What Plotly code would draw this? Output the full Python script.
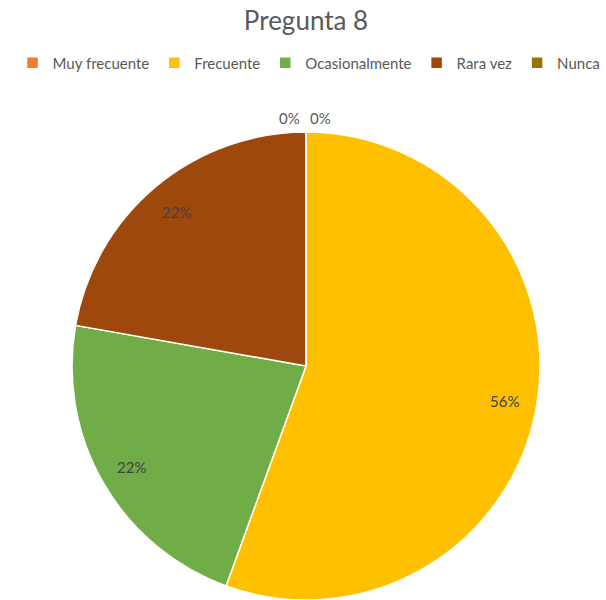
import math
import plotly.graph_objects as go

categories = ["Muy frecuente", "Frecuente", "Ocasionalmente", "Rara vez", "Nunca"]
values = [0, 5, 2, 2, 0]
colors = ["#ED7D31", "#FFC000", "#70AD47", "#9E480E", "#997300"]
title_text = "Pregunta 8"

W, H = 606, 600
dom_x = [0.01, 1.0]
dom_y = [0.0, 0.78]
cx_px = (dom_x[0] + dom_x[1]) / 2 * W
cy_paper = (dom_y[0] + dom_y[1]) / 2
R_px = min((dom_x[1] - dom_x[0]) * W, (dom_y[1] - dom_y[0]) * H) / 2

fig = go.Figure(go.Pie(
    labels=categories, values=values, sort=False, direction="clockwise",
    marker=dict(colors=colors, line=dict(color="white", width=1.5)),
    textinfo="none", hoverinfo="label+percent",
    domain=dict(x=dom_x, y=dom_y), showlegend=True,
))

total = sum(values)
annotations = []
cum = 0
for i, v in enumerate(values):
    pct = f"{round(100 * v / total)}%"
    if v > 0:
        theta = 2 * math.pi * (cum + v / 2) / total
        k = 0.86
        x = (cx_px + k * R_px * math.sin(theta)) / W
        y = cy_paper + k * R_px * math.cos(theta) / H
        annotations.append(dict(x=x, y=y, xref="paper", yref="paper", text=pct,
                                xanchor="center", yanchor="middle",
                                showarrow=False, font=dict(size=15, color="#404040")))
    else:
        theta = 2 * math.pi * cum / total
        x = (cx_px + R_px * math.sin(theta)) / W
        y = cy_paper + (R_px + 14) * math.cos(theta) / H
        shift = 14 if i == 0 else -17
        annotations.append(dict(x=x, y=y, xref="paper", yref="paper", text=pct,
                                xanchor="center", yanchor="middle",
                                xshift=shift, showarrow=False,
                                font=dict(size=15, color="#595959")))
    cum += v

fig.update_layout(
    width=W, height=H,
    margin=dict(l=0, r=0, t=0, b=0, autoexpand=False),
    paper_bgcolor="white", plot_bgcolor="white",
    font=dict(family="Lato, Liberation Sans, Arial, sans-serif", color="#595959"),
    title=dict(text=title_text, x=0.505, xanchor="center", y=1 - 21 / H, yanchor="middle",
               font=dict(size=26, color="#595959")),
    legend=dict(orientation="h", x=0.51, xanchor="center", y=1 - 63 / H, yanchor="middle",
                font=dict(size=15, color="#595959"), itemwidth=30, tracegroupgap=0),
    annotations=annotations,
)

fig.write_html("out.html", config={"displayModeBar": False},
               post_script="document.body.style.margin='0';")
